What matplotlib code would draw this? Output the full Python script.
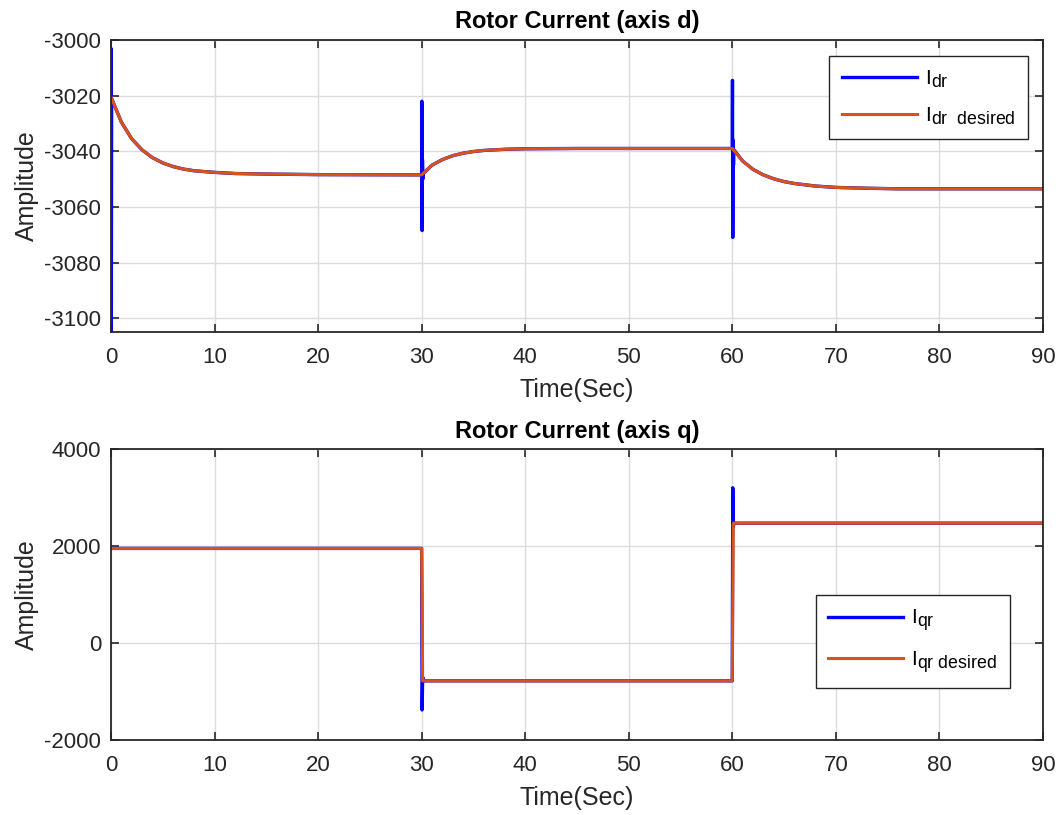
import numpy as np
import matplotlib
matplotlib.use("Agg")
import matplotlib.pyplot as plt
import matplotlib._mathtext as mt

plt.rcParams['font.family'] = ['Liberation Sans', 'DejaVu Sans']
plt.rcParams['mathtext.fontset'] = 'custom'
plt.rcParams['mathtext.rm'] = 'Liberation Sans'
plt.rcParams['mathtext.it'] = 'Liberation Sans'
plt.rcParams['axes.unicode_minus'] = False
# MATLAB-like subscripts are only slightly smaller than the base text
mt.SHRINK_FACTOR = 0.85

# ---- axis d: desired rotor current
d_time = [0, 1, 2, 3, 4, 5, 6, 7, 8, 10, 12, 15, 20, 30,
          31, 32, 33, 34, 35, 36, 38, 40, 45, 50, 60,
          61, 62, 63, 64, 65, 66, 68, 70, 73, 76, 90]
d_desired = [-3020.5, -3029.5, -3035.5, -3039.5, -3042.3, -3044.2, -3045.5, -3046.4,
             -3047.0, -3047.6, -3048.0, -3048.2, -3048.4, -3048.5,
             -3045.0, -3043.0, -3041.6, -3040.7, -3040.1, -3039.7, -3039.3, -3039.1,
             -3039.0, -3039.0, -3039.0,
             -3043.5, -3046.5, -3048.5, -3049.9, -3050.9, -3051.6, -3052.5, -3053.0,
             -3053.3, -3053.5, -3053.5]

# transient spikes of the measured current (axis d)
d_spike_time = [0.0, 0.03, 0.06, 30.0, 30.02, 30.05, 30.08, 30.12, 30.16,
                60.0, 60.02, 60.05, 60.08, 60.12, 60.16]
d_spike_val = [-3003, -3110, -3021, -3048.5, -3022, -3068.5, -3043, -3050, -3048,
               -3039, -3014.5, -3071, -3036, -3045, -3039.5]

# ---- axis q
q_time = [0, 30, 30.1, 60, 60.1, 90]
q_desired = [1950, 1950, -780, -780, 2470, 2470]
q_spike_time = [30.0, 30.05, 30.1, 30.15, 60.0, 60.05, 60.1, 60.15]
q_spike_val = [1950, -1380, -700, -780, -780, 3200, 2400, 2470]

blue = '#0000FF'
orange = '#D95319'

# merge smooth curves with spikes for measured signals
d_t_all = np.concatenate([d_time, d_spike_time])
d_v_all = np.concatenate([d_desired, d_spike_val])
order = np.argsort(d_t_all, kind='stable')
d_t_meas, d_v_meas = d_t_all[order], d_v_all[order]

q_t_all = np.concatenate([[0, 90], q_spike_time])
q_v_all = np.concatenate([[1950, 2470], q_spike_val])
order = np.argsort(q_t_all, kind='stable')
q_t_meas, q_v_meas = q_t_all[order], q_v_all[order]

fig = plt.figure(figsize=(10.59, 8.15), dpi=100)
ax1 = fig.add_axes([0.1048, 0.5926, 0.880, 0.3583])
ax2 = fig.add_axes([0.1048, 0.0920, 0.880, 0.3571])


def style(ax):
    ax.grid(True, color='#dcdcdc', linewidth=1)
    ax.set_axisbelow(True)
    ax.tick_params(direction='in', length=6, width=1.2, top=True, right=True,
                   labelsize=16, colors='#262626')
    ax.tick_params(axis='x', pad=11)
    ax.tick_params(axis='y', pad=7)
    for s in ax.spines.values():
        s.set_color('#262626')
        s.set_linewidth(1.3)
    ax.set_xlim(0, 90)
    ax.set_xticks(range(0, 91, 10))
    ax.set_xlabel('Time(Sec)', fontsize=18, color='#262626', labelpad=7)
    ax.set_ylabel('Amplitude', fontsize=18, color='#262626')


def legend(ax, x, y):
    leg = ax.legend(loc='upper left', bbox_to_anchor=(x, y), fontsize=15,
                    fancybox=False, edgecolor='#262626', framealpha=1,
                    borderaxespad=0, handlelength=3.6, handletextpad=0.4,
                    borderpad=0.6, labelspacing=0.75)
    leg.get_frame().set_linewidth(1.0)


ax1.plot(d_t_meas, d_v_meas, color=blue, linewidth=2.4, label=r'$\mathregular{I_{dr}}$')
ax1.plot(d_time, d_desired, color=orange, linewidth=2.2,
         label=r'$\mathregular{I_{dr\ \ desired}}$')
style(ax1)
ax1.set_ylim(-3105, -3000)
ax1.set_yticks(range(-3100, -2999, 20))
ax1.set_title('Rotor Current (axis d)', fontsize=17, fontweight='bold', pad=9)
legend(ax1, 0.771, 0.945)

ax2.plot(q_t_meas, q_v_meas, color=blue, linewidth=2.4, label=r'$\mathregular{I_{qr}}$')
ax2.plot(q_time, q_desired, color=orange, linewidth=2.2,
         label=r'$\mathregular{I_{qr\ desired}}$')
style(ax2)
ax2.set_ylim(-2000, 4000)
ax2.set_yticks(range(-2000, 4001, 2000))
ax2.set_title('Rotor Current (axis q)', fontsize=17, fontweight='bold', pad=8)
legend(ax2, 0.756, 0.498)

fig.savefig('out.png', dpi=100)
